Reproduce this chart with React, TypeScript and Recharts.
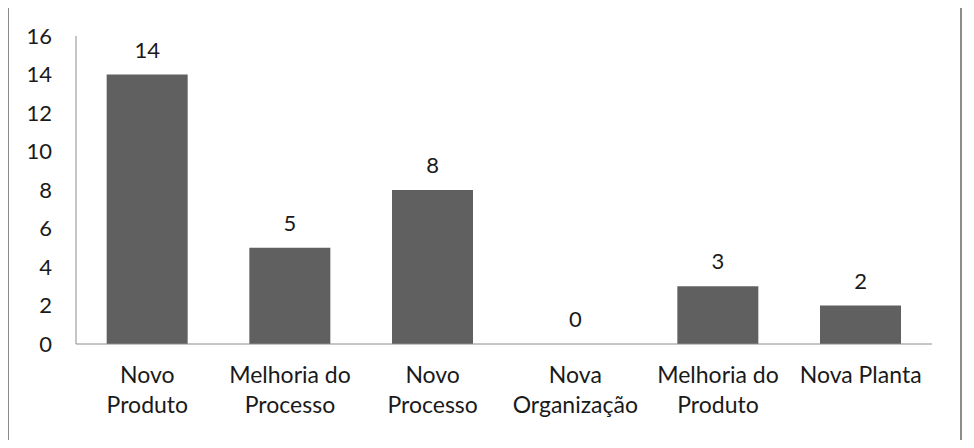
import React from "react";
import { ComposedChart, Bar, Line, XAxis, YAxis, LabelList } from "recharts";

const categories = [
  "Novo Produto",
  "Melhoria do Processo",
  "Novo Processo",
  "Nova Organização",
  "Melhoria do Produto",
  "Nova Planta",
];
const categoryLines: string[][] = [
  ["Novo", "Produto"],
  ["Melhoria do", "Processo"],
  ["Novo", "Processo"],
  ["Nova", "Organização"],
  ["Melhoria do", "Produto"],
  ["Nova Planta"],
];
const values = [14, 5, 8, 0, 3, 2];
const yTicks = [0, 2, 4, 6, 8, 10, 12, 14, 16];

const data = categories.map((c, i) => ({ name: c, idx: i, value: values[i] }));

const FONT = "Lato, 'Noto Sans', sans-serif";
const TEXT = "#1a1a1a";

const XTick = (props: any) => {
  const { x, y, payload } = props;
  const lines = categoryLines[payload.index] || [String(payload.value)];
  return (
    <g>
      {lines.map((l, i) => (
        <text
          key={i}
          x={x}
          y={y + 31 + i * 30}
          textAnchor="middle"
          fontSize={23}
          fontFamily={FONT}
          fill={TEXT}
        >
          {l}
        </text>
      ))}
    </g>
  );
};

export default function App() {
  return (
    <div style={{ position: "relative", width: 974, height: 448, margin: -8, background: "#fff" }}>
      <div
        style={{
          position: "absolute",
          left: 7,
          top: 6,
          width: 951,
          height: 432,
          border: "2px solid #8c8c8c",
        }}
      />
      <div style={{ position: "absolute", left: 0, top: 0 }}>
        <ComposedChart
          width={974}
          height={448}
          data={data}
          margin={{ top: 36, right: 42, bottom: 44, left: 0 }}
          barCategoryGap="21.5%"
        >
          <XAxis
            dataKey="name"
            interval={0}
            tickLine={false}
            axisLine={{ stroke: "#8c8c8c", strokeWidth: 1 }}
            height={60}
            tick={<XTick />}
          />
          <YAxis
            domain={[0, 16]}
            ticks={yTicks}
            width={76}
            tickLine={false}
            tickSize={0}
            tickMargin={24}
            axisLine={{ stroke: "#8c8c8c", strokeWidth: 1 }}
            tick={{ fontSize: 22, fontFamily: FONT, fill: TEXT }}
            interval={0}
          />
          <Bar dataKey="value" fill="#606060" isAnimationActive={false} />
          <Line
            dataKey="value"
            stroke="none"
            dot={false}
            activeDot={false}
            isAnimationActive={false}
            legendType="none"
          >
            <LabelList
              dataKey="value"
              position="top"
              offset={17}
              style={{ fontSize: 22, fontFamily: FONT, fill: TEXT }}
            />
          </Line>
        </ComposedChart>
      </div>
    </div>
  );
}
